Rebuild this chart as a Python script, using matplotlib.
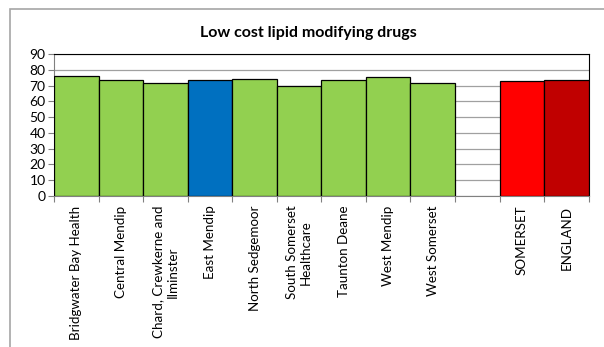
import matplotlib.pyplot as plt
from matplotlib.patches import Rectangle

labels = ['Bridgwater Bay Health', 'Central Mendip', 'Chard, Crewkerne and\nIlminster',
          'East Mendip', 'North Sedgemoor', 'South Somerset\nHealthcare', 'Taunton Deane',
          'West Mendip', 'West Somerset', '', 'SOMERSET', 'ENGLAND']
values = [76.2, 73.8, 71.5, 73.4, 74.3, 69.6, 73.4, 75.8, 71.7, None, 73.2, 73.4]
colors = ['#92D050'] * 3 + ['#0070C0'] + ['#92D050'] * 5 + ['white', '#FF0000', '#C00000']

plt.rcParams['font.family'] = ['Lato', 'DejaVu Sans']

W, H = 604, 347
fig = plt.figure(figsize=(W / 100, H / 100), dpi=100)

# outer chart frame (runs past the right and bottom edge)
fig.patches.append(Rectangle((10 / W, -0.1), 1.2, 1 - 9 / H + 0.1, transform=fig.transFigure,
                             fill=False, edgecolor='#A6A6A6', linewidth=1.2))

left, right, top, bottom = 54, 588.7, 54.3, 195.7
ax = fig.add_axes([left / W, 1 - bottom / H, (right - left) / W, (bottom - top) / H])

xs = [i for i, v in enumerate(values) if v is not None]
ax.bar(xs, [values[i] for i in xs], width=1.0, color=[colors[i] for i in xs],
       edgecolor='black', linewidth=0.9, zorder=3)

ax.set_xlim(-0.5, len(values) - 0.5)
ax.set_ylim(0, 90)
ax.set_yticks(range(0, 91, 10))
ax.tick_params(axis='y', labelsize=10, length=4, width=0.8, color='#808080', pad=2)
ax.yaxis.grid(True, color='#A0A0A0', linewidth=0.9, zorder=0)

ax.set_xticks([i - 0.5 for i in range(len(values) + 1)])
ax.set_xticklabels([])
ax.tick_params(axis='x', length=4, width=0.8, color='#808080')
for i, lab in enumerate(labels):
    ax.text(i, -0.07, lab, transform=ax.get_xaxis_transform(), rotation=90,
            ha='center', va='top', multialignment='center', fontsize=9.6)

for s in ['left', 'bottom']:
    ax.spines[s].set_color('#808080')
for s in ['top', 'right']:
    ax.spines[s].set_color('black')

fig.text(308 / W, 1 - 33 / H, 'Low cost lipid modifying drugs', ha='center', va='center',
         fontsize=11.5, fontweight='bold')

fig.savefig('out.png', dpi=100)
